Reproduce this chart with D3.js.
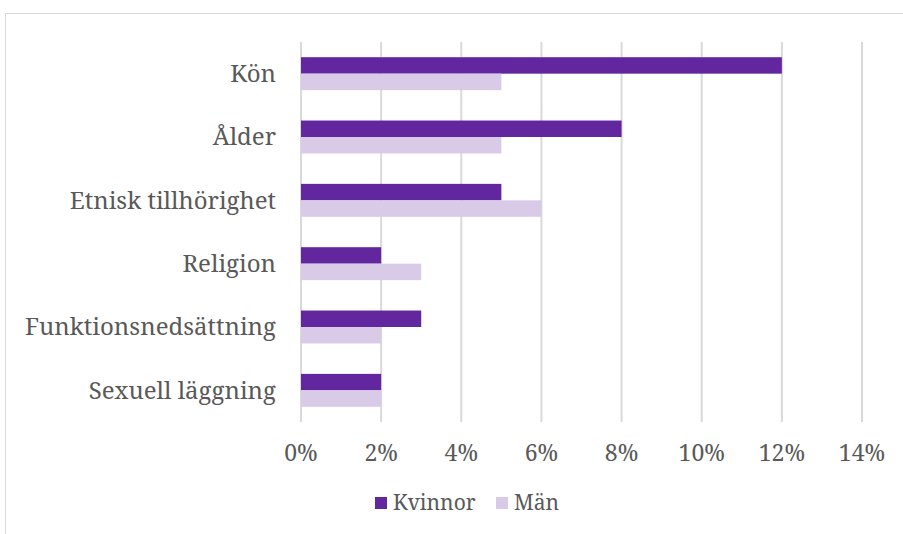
<!DOCTYPE html>
<html>
<head>
<meta charset="utf-8">
<script src="https://cdn.jsdelivr.net/npm/d3@7"></script>
<style>
  body { margin: 0; background: #fff; }
</style>
</head>
<body>
<svg id="chart" width="903" height="534"></svg>
<script>
const categories = ['Kön', 'Ålder', 'Etnisk tillhörighet', 'Religion', 'Funktionsnedsättning', 'Sexuell läggning'];
const seriesNames = ['Kvinnor', 'Män'];
const kvinnor = [12, 8, 5, 2, 3, 2];
const man = [5, 5, 6, 3, 2, 2];
const ticks = [0, 2, 4, 6, 8, 10, 12, 14];
const colors = ['#62269e', '#d9cae7'];
const FONT = '"Noto Serif", serif';

const svg = d3.select('#chart');

// chart frame (only top and left edges show)
svg.append('path')
  .attr('d', 'M5.5,534 V13.5 H903')
  .attr('fill', 'none')
  .attr('stroke', '#d9d9d9')
  .attr('stroke-width', 1);

const x = d3.scaleLinear().domain([0, 14]).range([301, 862]);
const y = d3.scaleBand().domain(categories).range([42, 422]).paddingInner(0.48).paddingOuter(0.24);
const sub = d3.scaleBand().domain(seriesNames).range([0, y.bandwidth()]);

// gridlines
svg.append('g')
  .selectAll('line')
  .data(ticks)
  .join('line')
  .attr('x1', d => x(d)).attr('x2', d => x(d))
  .attr('y1', 42).attr('y2', 422)
  .attr('stroke', '#d9d9d9')
  .attr('stroke-width', 2);

const rows = categories.map((c, i) => ({ cat: c, vals: [kvinnor[i], man[i]] }));

const groups = svg.append('g')
  .selectAll('g')
  .data(rows)
  .join('g')
  .attr('transform', d => `translate(0,${y(d.cat)})`);

groups.selectAll('rect')
  .data(d => d.vals.map((v, j) => ({ key: seriesNames[j], v, j })))
  .join('rect')
  .attr('x', x(0))
  .attr('y', d => sub(d.key))
  .attr('width', d => x(d.v) - x(0))
  .attr('height', sub.bandwidth())
  .attr('fill', d => colors[d.j]);

function label(sel, size) {
  return sel.style('font-family', FONT).attr('font-size', size).attr('fill', '#595959');
}

// category labels
svg.append('g')
  .selectAll('text')
  .data(categories)
  .join('text')
  .attr('x', 276)
  .attr('y', d => y(d) + y.bandwidth() / 2)
  .attr('dy', '0.35em')
  .attr('text-anchor', 'end')
  .call(label, 24)
  .text(d => d);

// x tick labels
svg.append('g')
  .selectAll('text')
  .data(ticks)
  .join('text')
  .attr('x', d => x(d))
  .attr('y', 453)
  .attr('dy', '0.35em')
  .attr('text-anchor', 'middle')
  .call(label, 23)
  .text(d => d + '%');

// legend
const legend = svg.append('g');
const legendItems = [
  { name: seriesNames[0], color: colors[0], x: 375 },
  { name: seriesNames[1], color: colors[1], x: 496 }
];
legendItems.forEach(it => {
  legend.append('rect')
    .attr('x', it.x).attr('y', 497)
    .attr('width', 12).attr('height', 12)
    .attr('fill', it.color);
  legend.append('text')
    .attr('x', it.x + 18).attr('y', 503)
    .attr('dy', '0.35em')
    .call(label, 21)
    .text(it.name);
});
</script>
</body>
</html>
